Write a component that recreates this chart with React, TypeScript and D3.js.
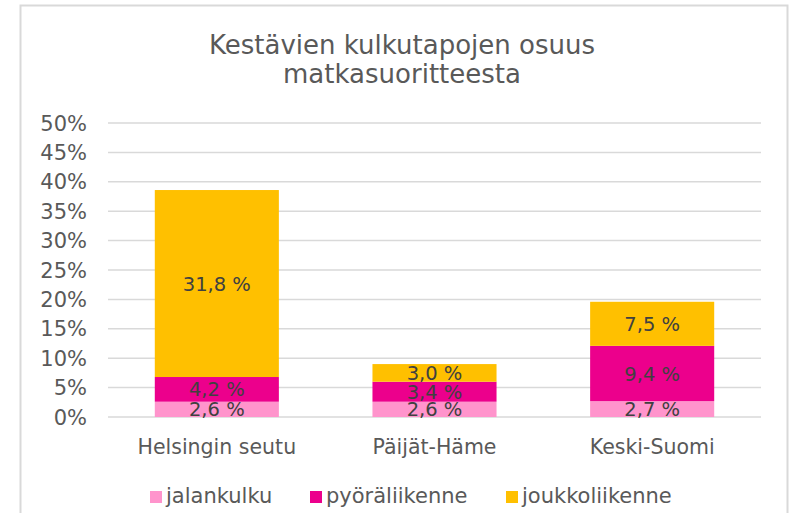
import React, { useRef, useEffect } from "react";
import * as d3 from "d3";

const categories = ["Helsingin seutu", "Päijät-Häme", "Keski-Suomi"];
const seriesNames = ["jalankulku", "pyöräliikenne", "joukkoliikenne"];
const jalankulku = [2.6, 2.6, 2.7];
const pyoraliikenne = [4.2, 3.4, 9.4];
const joukkoliikenne = [31.8, 3.0, 7.5];
const yTicks = [0, 5, 10, 15, 20, 25, 30, 35, 40, 45, 50];
const titleLines = ["Kestävien kulkutapojen osuus", "matkasuoritteesta"];

const colors = ["#FF94CC", "#EC008C", "#FFC000"];

const dimensions = {
  width: 791,
  height: 513,
  plotLeft: 108,
  plotRight: 761,
  plotTop: 123,
  plotBottom: 417,
};

const font = "'DejaVu Sans', Verdana, sans-serif";
const textColor = "#595959";

const App = () => {
  const d3Container = useRef<SVGSVGElement>(null);

  useEffect(() => {
    const svg = d3.select(d3Container.current);
    svg.selectAll("*").remove();

    // chart area border
    svg
      .append("rect")
      .attr("x", 20.5)
      .attr("y", 5.5)
      .attr("width", 767)
      .attr("height", 530)
      .attr("fill", "white")
      .attr("stroke", "#d9d9d9")
      .attr("stroke-width", 2);

    // title
    svg
      .append("g")
      .selectAll("text")
      .data(titleLines)
      .join("text")
      .attr("x", 402)
      .attr("y", (d, i) => 54 + i * 29)
      .attr("text-anchor", "middle")
      .attr("font-family", font)
      .attr("font-size", 26)
      .attr("fill", textColor)
      .text((d) => d);

    const xScale = d3
      .scaleBand()
      .domain(categories)
      .range([dimensions.plotLeft, dimensions.plotRight])
      .paddingInner(0.43)
      .paddingOuter(0.215);

    const yScale = d3
      .scaleLinear()
      .domain([0, 50])
      .range([dimensions.plotBottom, dimensions.plotTop]);

    // gridlines
    svg
      .append("g")
      .selectAll("line")
      .data(yTicks)
      .join("line")
      .attr("x1", dimensions.plotLeft)
      .attr("x2", dimensions.plotRight)
      .attr("y1", (d) => yScale(d))
      .attr("y2", (d) => yScale(d))
      .attr("stroke", "#d9d9d9")
      .attr("stroke-width", 1.5);

    // y tick labels
    svg
      .append("g")
      .selectAll("text")
      .data(yTicks)
      .join("text")
      .attr("x", 87)
      .attr("y", (d) => yScale(d))
      .attr("dy", "0.36em")
      .attr("text-anchor", "end")
      .attr("font-family", font)
      .attr("font-size", 21)
      .attr("fill", textColor)
      .text((d) => d + "%");

    const table = categories.map((c, i) => ({
      category: c,
      jalankulku: jalankulku[i],
      pyoraliikenne: pyoraliikenne[i],
      joukkoliikenne: joukkoliikenne[i],
    }));
    const keys = ["jalankulku", "pyoraliikenne", "joukkoliikenne"];
    const stacked = d3.stack<any>().keys(keys)(table);

    const layers = svg
      .append("g")
      .selectAll("g")
      .data(stacked)
      .join("g")
      .attr("fill", (d, i) => colors[i]);

    layers
      .selectAll("rect")
      .data((d) => d)
      .join("rect")
      .attr("x", (d: any) => xScale(d.data.category)!)
      .attr("width", xScale.bandwidth())
      .attr("y", (d) => yScale(d[1]))
      .attr("height", (d) => yScale(d[0]) - yScale(d[1]));

    // data labels
    const labels = svg.append("g");
    stacked.forEach((layer) => {
      labels
        .append("g")
        .selectAll("text")
        .data(layer)
        .join("text")
        .attr("x", (d: any) => xScale(d.data.category)! + xScale.bandwidth() / 2)
        .attr("y", (d) => yScale((d[0] + d[1]) / 2))
        .attr("dy", "0.36em")
        .attr("text-anchor", "middle")
        .attr("font-family", font)
        .attr("font-size", 19.5)
        .attr("fill", "#404040")
        .text((d) => (d[1] - d[0]).toFixed(1).replace(".", ",") + " %");
    });

    // category labels
    svg
      .append("g")
      .selectAll("text")
      .data(categories)
      .join("text")
      .attr("x", (d) => xScale(d)! + xScale.bandwidth() / 2)
      .attr("y", 454)
      .attr("text-anchor", "middle")
      .attr("font-family", font)
      .attr("font-size", 20.5)
      .attr("fill", textColor)
      .text((d) => d);

    // legend
    const legendX = [150, 310, 506];
    const legend = svg
      .append("g")
      .selectAll("g")
      .data(seriesNames)
      .join("g")
      .attr("transform", (d, i) => `translate(${legendX[i]},0)`);

    legend
      .append("rect")
      .attr("x", 0)
      .attr("y", 491)
      .attr("width", 12)
      .attr("height", 12)
      .attr("fill", (d, i) => colors[i]);

    legend
      .append("text")
      .attr("x", 16)
      .attr("y", 503)
      .attr("font-family", font)
      .attr("font-size", 21)
      .attr("fill", textColor)
      .text((d) => d);

    return () => undefined;
  }, []);

  return (
    <svg
      ref={d3Container}
      width={dimensions.width}
      height={dimensions.height}
      style={{ position: "absolute", left: 0, top: 0, background: "white" }}
    ></svg>
  );
};

export default App;
